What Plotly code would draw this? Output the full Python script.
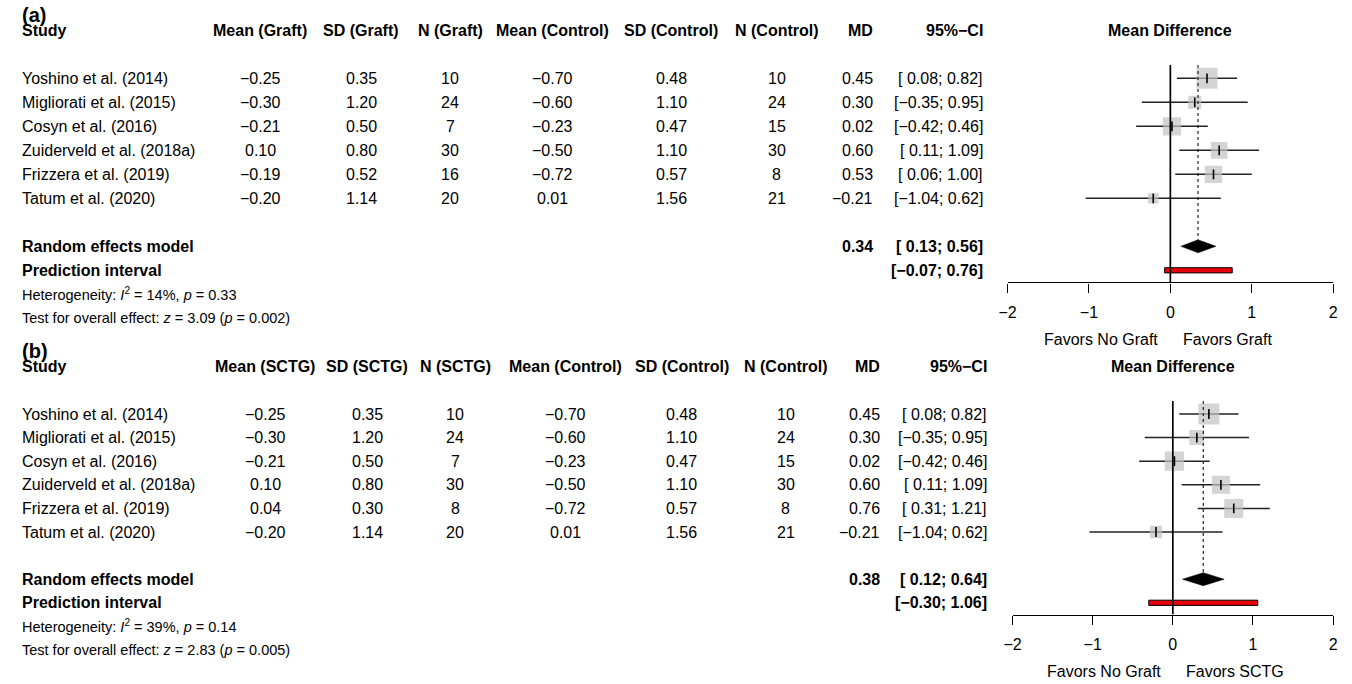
import numpy as np
import plotly.graph_objects as go

W, H = 1352, 684
FONT = "Liberation Sans, Arial, Helvetica, sans-serif"

studies = ["Yoshino et al. (2014)", "Migliorati et al. (2015)", "Cosyn et al. (2016)",
           "Zuiderveld et al. (2018a)", "Frizzera et al. (2019)", "Tatum et al. (2020)"]

# ---- Panel (a): graft vs. control ----
a_mean_t = [-0.25, -0.30, -0.21, 0.10, -0.19, -0.20]
a_sd_t = [0.35, 1.20, 0.50, 0.80, 0.52, 1.14]
a_n_t = [10, 24, 7, 30, 16, 20]
a_mean_c = [-0.70, -0.60, -0.23, -0.50, -0.72, 0.01]
a_sd_c = [0.48, 1.10, 0.47, 1.10, 0.57, 1.56]
a_n_c = [10, 24, 15, 30, 8, 21]
a_md = [0.45, 0.30, 0.02, 0.60, 0.53, -0.21]
a_lo = [0.08, -0.35, -0.42, 0.11, 0.06, -1.04]
a_hi = [0.82, 0.95, 0.46, 1.09, 1.00, 0.62]
a_re = [0.34, 0.13, 0.56]
a_pi = [-0.07, 0.76]
a_het = ["14%", "0.33"]
a_test = ["3.09", "0.002"]

# ---- Panel (b): SCTG vs. control ----
b_mean_t = [-0.25, -0.30, -0.21, 0.10, 0.04, -0.20]
b_sd_t = [0.35, 1.20, 0.50, 0.80, 0.30, 1.14]
b_n_t = [10, 24, 7, 30, 8, 20]
b_mean_c = [-0.70, -0.60, -0.23, -0.50, -0.72, 0.01]
b_sd_c = [0.48, 1.10, 0.47, 1.10, 0.57, 1.56]
b_n_c = [10, 24, 15, 30, 8, 21]
b_md = [0.45, 0.30, 0.02, 0.60, 0.76, -0.21]
b_lo = [0.08, -0.35, -0.42, 0.11, 0.31, -1.04]
b_hi = [0.82, 0.95, 0.46, 1.09, 1.21, 0.62]
b_re = [0.38, 0.12, 0.64]
b_pi = [-0.30, 1.06]
b_het = ["39%", "0.14"]
b_test = ["2.83", "0.005"]

axis_ticks = [-2, -1, 0, 1, 2]


def num(v):
    return f"{v:.2f}".replace("-", "\u2212")


def ci(lo, hi):
    return "[" + (" " if lo >= 0 else "") + num(lo) + "; " + num(hi) + "]"


def re_weights(lo, hi, md):
    """DerSimonian-Laird random-effects weights from the study CIs."""
    lo, hi, md = map(np.asarray, (lo, hi, md))
    v = ((hi - lo) / (2 * 1.959964)) ** 2
    w = 1 / v
    m = np.sum(w * md) / np.sum(w)
    q = np.sum(w * (md - m) ** 2)
    tau2 = max(0.0, (q - (len(md) - 1)) / (np.sum(w) - np.sum(w ** 2) / np.sum(w)))
    return 1 / (v + tau2)


fig = go.Figure()
annotations = []
shapes = []

panels = [
    dict(tag="(a)", grp="Graft", fav="Favors Graft", y0=78.3, h=24.0, tag_y=15.5,
         xl=1009, xr=1338, xs="x", ys="y",
         cols=dict(mt=254, st=356, nt=446, mc=549, sc=669, nc=776, md=875, ci=986),
         mean_t=a_mean_t, sd_t=a_sd_t, n_t=a_n_t, mean_c=a_mean_c, sd_c=a_sd_c, n_c=a_n_c,
         md=a_md, lo=a_lo, hi=a_hi, re=a_re, pi=a_pi, het=a_het, test=a_test),
    dict(tag="(b)", grp="SCTG", fav="Favors SCTG", y0=414.0, h=23.6, tag_y=351,
         xl=1014, xr=1338, xs="x2", ys="y2",
         cols=dict(mt=259, st=362, nt=451, mc=562, sc=680, nc=785, md=882, ci=990),
         mean_t=b_mean_t, sd_t=b_sd_t, n_t=b_n_t, mean_c=b_mean_c, sd_c=b_sd_c, n_c=b_n_c,
         md=b_md, lo=b_lo, hi=b_hi, re=b_re, pi=b_pi, het=b_het, test=b_test),
]

for k, p in enumerate(panels):
    y0, h = p["y0"], p["h"]
    xs, ys = p["xs"], p["ys"]
    sfx = "" if k == 0 else str(k + 1)

    def py(t):
        return 1 - (y0 + t * h) / H

    def px(x):
        return x / W

    def txt(x, t, s, anchor="center", size=16, bold=False, xref="paper", xshift=0):
        annotations.append(dict(
            x=x if xref != "paper" else px(x), y=py(t), xref=xref, yref="paper",
            text=f"<b>{s}</b>" if bold else s, showarrow=False,
            xanchor=anchor, yanchor="middle", xshift=xshift,
            font=dict(family=FONT, size=size, color="black")))

    c = p["cols"]
    g = p["grp"]
    # panel tag and header row
    annotations.append(dict(x=px(11), y=1 - p["tag_y"] / H, xref="paper", yref="paper",
                            text=f"<b>{p['tag']}</b>", showarrow=False, xanchor="left",
                            yanchor="middle", font=dict(family=FONT, size=20, color="black")))
    txt(11, -2, "Study", "left", bold=True)
    txt(c["mt"], -2, f"Mean ({g})", bold=True)
    txt(c["st"], -2, f"SD ({g})", bold=True)
    txt(c["nt"], -2, f"N ({g})", bold=True)
    txt(c["mc"], -2, "Mean (Control)", bold=True)
    txt(c["sc"], -2, "SD (Control)", bold=True)
    txt(c["nc"], -2, "N (Control)", bold=True)
    txt(c["md"], -2, "MD", "right", bold=True)
    txt(c["ci"], -2, "95%\u2212CI", "right", bold=True)
    txt(0, -2, "Mean Difference", bold=True, xref=xs)

    for i, name in enumerate(studies):
        txt(11, i, name, "left")
        txt(c["mt"], i, num(p["mean_t"][i]))
        txt(c["st"], i, num(p["sd_t"][i]))
        txt(c["nt"], i, str(p["n_t"][i]))
        txt(c["mc"], i, num(p["mean_c"][i]))
        txt(c["sc"], i, num(p["sd_c"][i]))
        txt(c["nc"], i, str(p["n_c"][i]))
        txt(c["md"], i, num(p["md"][i]), "right")
        txt(c["ci"], i, ci(p["lo"][i], p["hi"][i]), "right")

    md_re, lo_re, hi_re = p["re"]
    t_re, t_pi = 7, 8
    txt(11, t_re, "Random effects model", "left", bold=True)
    txt(c["md"], t_re, num(md_re), "right", bold=True)
    txt(c["ci"], t_re, ci(lo_re, hi_re), "right", bold=True)
    txt(11, t_pi, "Prediction interval", "left", bold=True)
    txt(c["ci"], t_pi, ci(*p["pi"]), "right", bold=True)
    txt(11, 9, f"Heterogeneity: <i>I</i><sup>2</sup> = {p['het'][0]}, <i>p</i> = {p['het'][1]}",
        "left", size=14.5)
    txt(11, 10, f"Test for overall effect: <i>z</i> = {p['test'][0]} (<i>p</i> = {p['test'][1]})",
        "left", size=14.5)
    txt(0, 10.9, "Favors No Graft", "right", xref=xs, xshift=-10)
    txt(0, 10.9, p["fav"], "left", xref=xs, xshift=11)

    # reference line at zero and dotted line at the pooled estimate
    diamond_hh = 6.5 / h
    shapes.append(dict(type="line", xref=xs, yref=ys, x0=0, x1=0, y0=-0.55, y1=8.5,
                       line=dict(color="black", width=1.7)))
    shapes.append(dict(type="line", xref=xs, yref=ys, x0=md_re, x1=md_re, y0=-0.55,
                       y1=t_re - diamond_hh, line=dict(color="#222222", width=1.2, dash="dot")))

    rows = list(range(len(studies)))
    # confidence-interval whiskers
    wx, wy = [], []
    for i in rows:
        wx += [p["lo"][i], p["hi"][i], None]
        wy += [i, i, None]
    fig.add_trace(go.Scatter(x=wx, y=wy, mode="lines", xaxis=xs, yaxis=ys,
                             line=dict(color="#222222", width=1.5), hoverinfo="skip"))
    # weight squares
    w = re_weights(p["lo"], p["hi"], p["md"])
    side = 21 * np.sqrt(w / w.max())
    fig.add_trace(go.Scatter(x=p["md"], y=rows, mode="markers", xaxis=xs, yaxis=ys,
                             marker=dict(symbol="square", size=side, color="#c2c2c2",
                                         line=dict(width=0))))
    # point-estimate ticks
    fig.add_trace(go.Scatter(x=p["md"], y=rows, mode="markers", xaxis=xs, yaxis=ys,
                             marker=dict(symbol="line-ns", size=7,
                                         line=dict(width=1.6, color="black"))))
    # pooled diamond
    fig.add_trace(go.Scatter(
        x=[lo_re, md_re, hi_re, md_re, lo_re],
        y=[t_re, t_re - diamond_hh, t_re, t_re + diamond_hh, t_re],
        mode="lines", fill="toself", fillcolor="black", xaxis=xs, yaxis=ys,
        line=dict(color="black", width=0.5)))
    # prediction interval bar
    bh = 2.6 / h
    plo, phi = p["pi"]
    fig.add_trace(go.Scatter(
        x=[plo, phi, phi, plo, plo], y=[t_pi - bh, t_pi - bh, t_pi + bh, t_pi + bh, t_pi - bh],
        mode="lines", fill="toself", fillcolor="#e8000b", xaxis=xs, yaxis=ys,
        line=dict(color="black", width=1)))

    top_px, bot_px = y0 - 2.5 * h, y0 + 8.5 * h
    fig.layout["xaxis" + sfx] = dict(
        domain=[p["xl"] / W, p["xr"] / W], range=[-2, 2], anchor=ys,
        tickvals=axis_ticks, ticks="outside", ticklen=9, tickwidth=1.4, tickcolor="black",
        showline=True, linecolor="black", linewidth=1.4, showgrid=False, zeroline=False,
        ticklabelstandoff=6,
        tickfont=dict(family=FONT, size=16, color="black"), fixedrange=True)
    fig.layout["yaxis" + sfx] = dict(
        domain=[1 - bot_px / H, 1 - top_px / H], range=[8.5, -2.5], anchor=xs,
        visible=False, showgrid=False, zeroline=False, fixedrange=True)

fig.update_layout(
    width=W, height=H, margin=dict(l=0, r=0, t=0, b=0),
    paper_bgcolor="white", plot_bgcolor="white", showlegend=False,
    annotations=annotations, shapes=shapes,
    font=dict(family=FONT, size=16, color="black"),
)

fig.write_html("out.html")
